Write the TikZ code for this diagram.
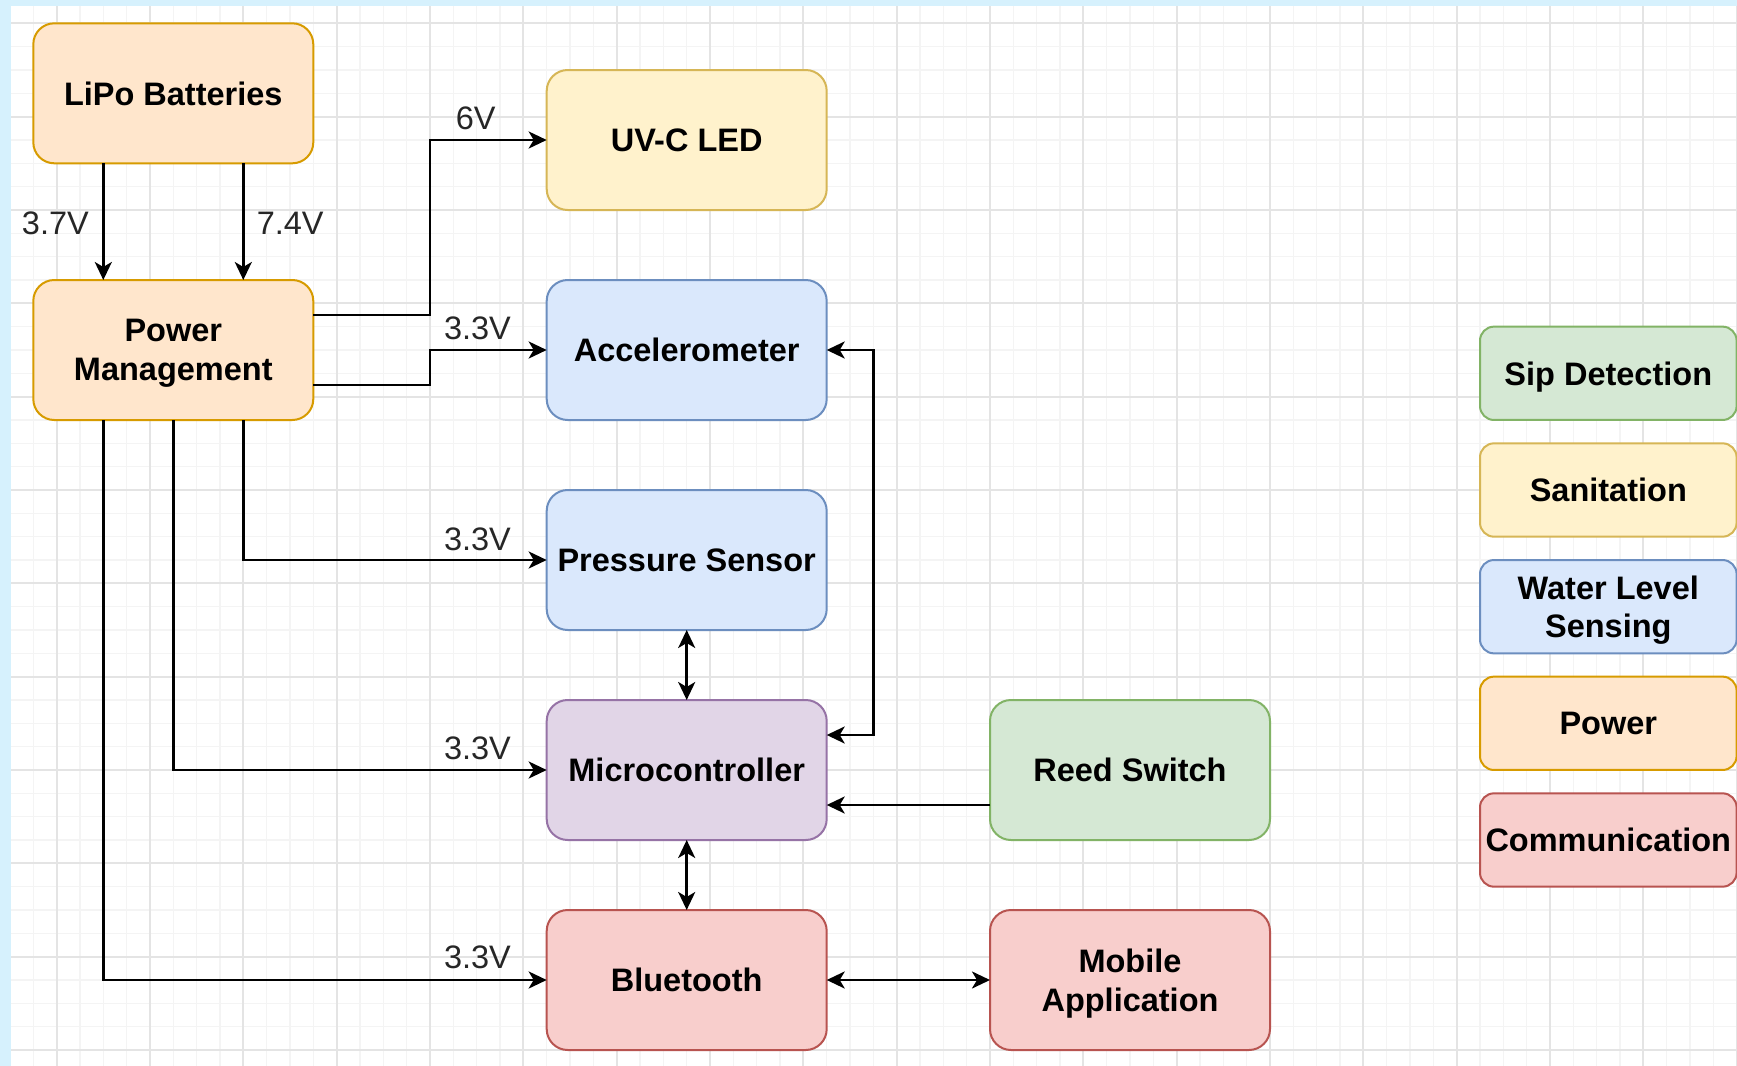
\documentclass[tikz,border=0pt]{standalone}
\usepackage{fontspec}
\setmainfont{Liberation Sans}
\usetikzlibrary{arrows.meta,calc}
\definecolor{bgblue}{RGB}{214,241,253}
\definecolor{gridminor}{RGB}{244,244,244}
\definecolor{gridmajor}{RGB}{228,228,228}
\definecolor{powfill}{HTML}{FFE6CC}\definecolor{powdraw}{HTML}{D79B00}
\definecolor{sanfill}{HTML}{FFF2CC}\definecolor{sandraw}{HTML}{D6B656}
\definecolor{blufill}{HTML}{DAE8FC}\definecolor{bludraw}{HTML}{6C8EBF}
\definecolor{purfill}{HTML}{E1D5E7}\definecolor{purdraw}{HTML}{9673A6}
\definecolor{grnfill}{HTML}{D5E8D4}\definecolor{grndraw}{HTML}{82B366}
\definecolor{redfill}{HTML}{F8CECC}\definecolor{reddraw}{HTML}{B85450}
\begin{document}
\begin{tikzpicture}[x=0.5pt,y=-0.5pt,
  box/.style={draw, rounded corners=10.5pt, line width=1pt,
    minimum width=140pt, minimum height=70pt, inner sep=0pt, outer sep=0pt,
    align=center, text=black, text depth=0pt, font=\fontsize{16.25pt}{19.4pt}\selectfont\bfseries},
  legendbox/.style={box, minimum width=128.3pt, minimum height=46.67pt, rounded corners=7pt},
  powbox/.style={fill=powfill, draw=powdraw},
  sanbox/.style={fill=sanfill, draw=sandraw},
  blubox/.style={fill=blufill, draw=bludraw},
  purbox/.style={fill=purfill, draw=purdraw},
  grnbox/.style={fill=grnfill, draw=grndraw},
  redbox/.style={fill=redfill, draw=reddraw},
  tipshape/.tip={Stealth[length=9pt,width=8.5pt,inset=2.5pt]},
  conn/.style={line width=1.35pt, -tipshape},
  biconn/.style={line width=1.35pt, tipshape-tipshape},
  lbl/.style={font=\fontsize{16.25pt}{19.4pt}\selectfont, text=black!85, anchor=base, inner sep=0pt},
  minorline/.style={draw=gridminor, line width=0.8pt},
  majorline/.style={draw=gridmajor, line width=1pt}
]
\useasboundingbox (0,0) rectangle (1737,1066);
% background
\fill[bgblue] (0,0) rectangle (1737,1066);
\fill[white] (11,6) rectangle (1737,1066);
\begin{scope}
  \clip (11,6) rectangle (1737,1066);
  \foreach \i in {1,...,74} { \draw[minorline] ({10+23.3333*\i},6) -- ({10+23.3333*\i},1066); }
  \foreach \j in {1,...,45} { \draw[minorline] (11,{23.3333*\j}) -- (1737,{23.3333*\j}); }
  \foreach \i in {0,...,18} { \draw[majorline] ({56.6667+93.3333*\i},6) -- ({56.6667+93.3333*\i},1066); }
  \foreach \j in {0,...,11} { \draw[majorline] (11,{23.3333+93.3333*\j}) -- (1737,{23.3333+93.3333*\j}); }
\end{scope}

% main boxes
\node[box,powbox] (lipo) at (173.3,93.3) {LiPo Batteries};
\node[box,powbox] (pm) at (173.3,350) {Power\\Management};
\node[box,sanbox] (uv) at (686.7,140) {UV-C LED};
\node[box,blubox] (acc) at (686.7,350) {Accelerometer};
\node[box,blubox] (ps) at (686.7,560) {Pressure Sensor};
\node[box,purbox] (mc) at (686.7,770) {Microcontroller};
\node[box,redbox] (bt) at (686.7,980) {Bluetooth};
\node[box,grnbox] (rs) at (1130,770) {Reed Switch};
\node[box,redbox] (ma) at (1130,980) {Mobile\\Application};

% legend
\node[legendbox,grnbox] (lg1) at (1608.3,373.3) {Sip Detection};
\node[legendbox,sanbox] (lg2) at (1608.3,490) {Sanitation};
\node[legendbox,blubox] (lg3) at (1608.3,606.7) {Water Level\\Sensing};
\node[legendbox,powbox] (lg4) at (1608.3,723.3) {Power};
\node[legendbox,redbox] (lg5) at (1608.3,840) {Communication};

% helper coordinates
\coordinate (lipoL) at ($(lipo.south west)!0.25!(lipo.south east)$);
\coordinate (lipoR) at ($(lipo.south west)!0.75!(lipo.south east)$);
\coordinate (pmTL) at ($(pm.north west)!0.25!(pm.north east)$);
\coordinate (pmTR) at ($(pm.north west)!0.75!(pm.north east)$);
\coordinate (pmBL) at ($(pm.south west)!0.25!(pm.south east)$);
\coordinate (pmBR) at ($(pm.south west)!0.75!(pm.south east)$);
\coordinate (pmEA) at ($(pm.north east)!0.25!(pm.south east)$);
\coordinate (pmEB) at ($(pm.north east)!0.75!(pm.south east)$);
\coordinate (midx) at ($(pm.east)!0.5!(acc.west)$);
\coordinate (mcEA) at ($(mc.north east)!0.25!(mc.south east)$);
\coordinate (mcEB) at ($(mc.north east)!0.75!(mc.south east)$);
\coordinate (rsWB) at ($(rs.north west)!0.75!(rs.south west)$);
\coordinate (accR) at ($(acc.east)+(46.7,0)$);

% connectors
\draw[conn] (lipoL) -- (pmTL);
\draw[conn] (lipoR) -- (pmTR);
\draw[conn] (pmEA) -- (pmEA -| midx) |- (uv.west);
\draw[conn] (pmEB) -- (pmEB -| midx) |- (acc.west);
\draw[conn] (pmBR) |- (ps.west);
\draw[conn] (pm.south) |- (mc.west);
\draw[conn] (pmBL) |- (bt.west);
\draw[biconn] (acc.east) -- (accR) |- (mcEA);
\draw[biconn] (ps.south) -- (mc.north);
\draw[biconn] (mc.south) -- (bt.north);
\draw[conn] (rsWB) -- (mcEB);
\draw[biconn] (bt.east) -- (ma.west);

% labels
\node[lbl] (l37) at (55.4,234) {3.7V};
\node[lbl] (l74) at (290.2,234) {7.4V};
\node[lbl] (l6) at (475.8,129) {6V};
\node[lbl] (l33a) at (477.5,339.5) {3.3V};
\node[lbl] (l33b) at (477.5,550) {3.3V};
\node[lbl] (l33c) at (477.5,759) {3.3V};
\node[lbl] (l33d) at (477.5,968.5) {3.3V};
\end{tikzpicture}
\end{document}
